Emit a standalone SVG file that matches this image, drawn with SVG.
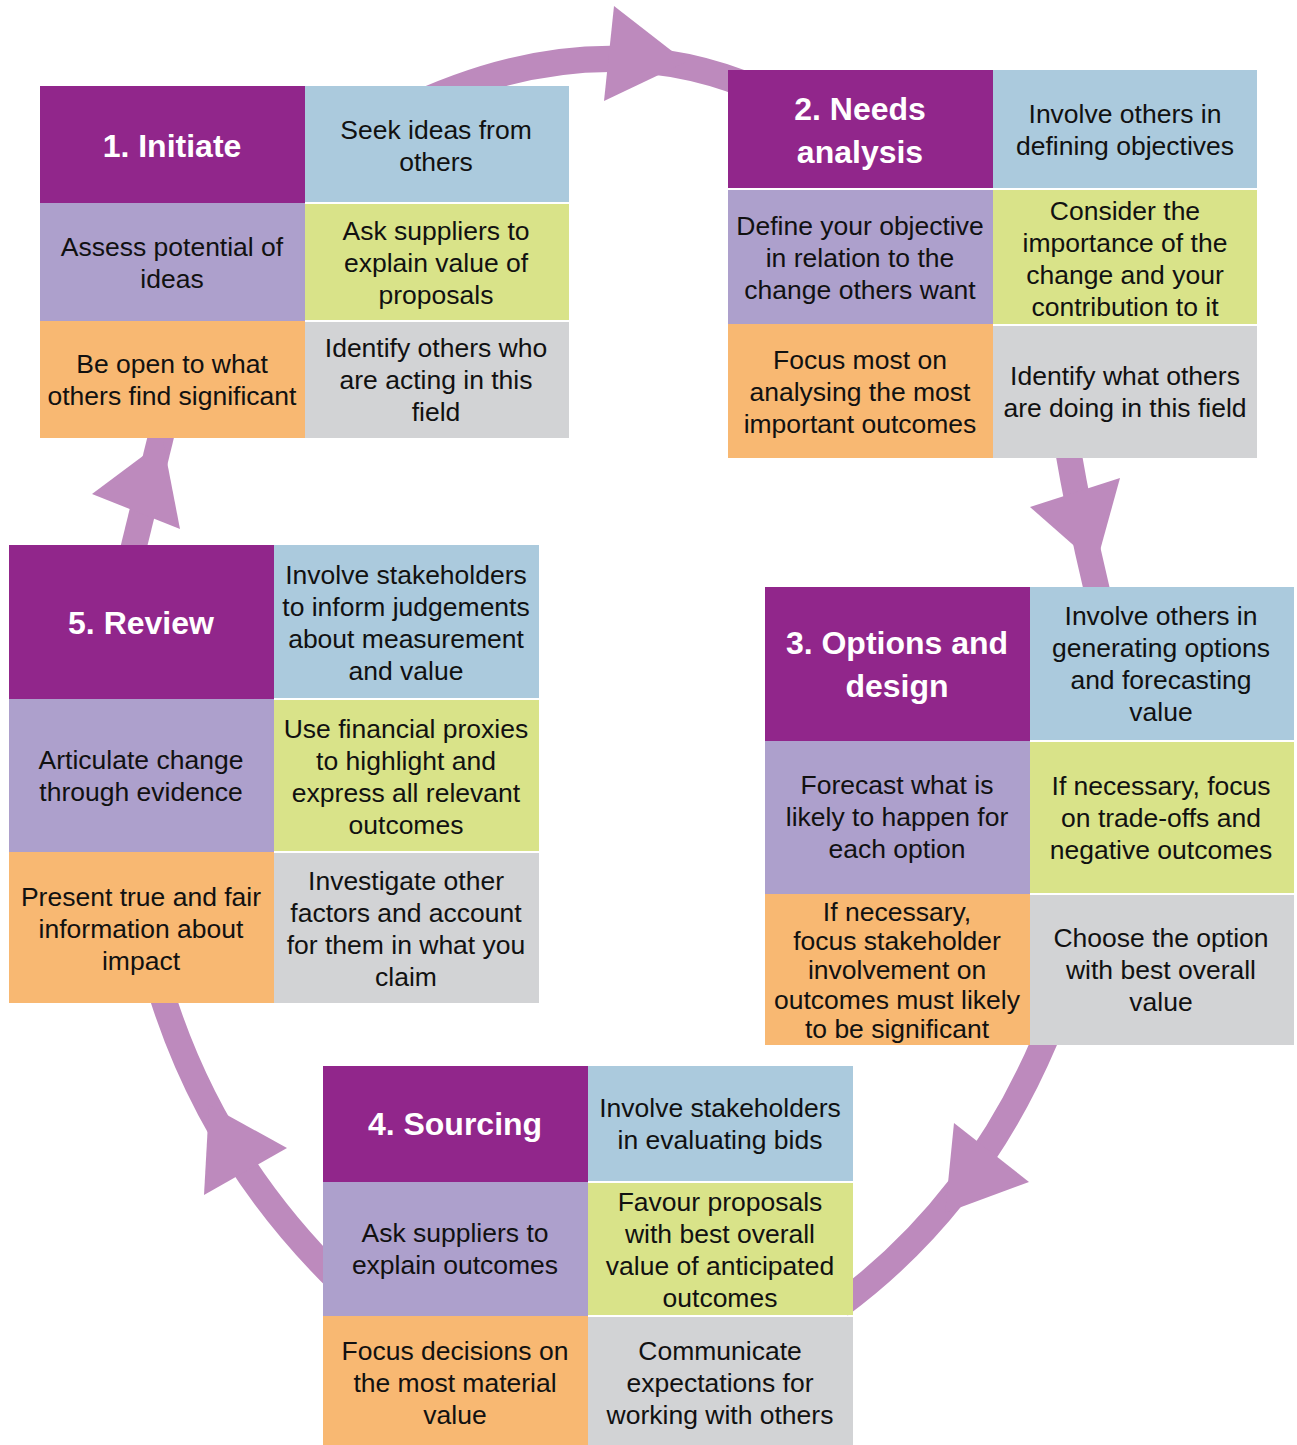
<svg xmlns="http://www.w3.org/2000/svg" width="1297" height="1445" viewBox="0 0 1297 1445">
<style>
.p{fill:#91268B}.b{fill:#ABCADD}.l{fill:#ADA0CC}.g{fill:#D9E389}.o{fill:#F8B872}.y{fill:#D2D3D5}
.t{font-family:"Liberation Sans",Arial,sans-serif;font-size:26.5px;fill:#111;text-anchor:middle}
.h{font-family:"Liberation Sans",Arial,sans-serif;font-size:32px;font-weight:bold;fill:#fff;text-anchor:middle}
.ring{fill:none;stroke:#BD8ABD;stroke-width:26}
.head{fill:#BD8ABD}
</style>
<rect width="1297" height="1445" fill="#fff"/>
<g id="connectors">
<path class="ring" d="M 400 112 Q 600 15 770 95"/>
<polygon class="head" points="614,6 686,62 604,101"/>
<path class="ring" d="M 1068 450 Q 1080 520 1098 595"/>
<polygon class="head" points="1030,507 1120,478 1096,565"/>
<path class="ring" d="M 1045 1040 Q 975 1205 840 1305"/>
<polygon class="head" points="954,1123 1029,1182 945,1213"/>
<path class="ring" d="M 340 1282 Q 215 1160 163 998"/>
<polygon class="head" points="287,1148 204,1195 209,1105"/>
<path class="ring" d="M 133 550 L 162 432"/>
<polygon class="head" points="92,494 180,529 163,441"/>
</g>
<g id="node1">
<rect class="p" x="40" y="86" width="265" height="117"/>
<rect class="l" x="40" y="203" width="265" height="118"/>
<rect class="o" x="40" y="321" width="265" height="117"/>
<rect class="b" x="305" y="86" width="264" height="116"/>
<rect class="g" x="305" y="204" width="264" height="116"/>
<rect class="y" x="305" y="322" width="264" height="116"/>
<text class="h" x="172" y="157">1. Initiate</text>
<text class="t" x="436" y="139">Seek ideas from</text>
<text class="t" x="436" y="171">others</text>
<text class="t" x="172" y="256">Assess potential of</text>
<text class="t" x="172" y="288">ideas</text>
<text class="t" x="436" y="240">Ask suppliers to</text>
<text class="t" x="436" y="272">explain value of</text>
<text class="t" x="436" y="304">proposals</text>
<text class="t" x="172" y="373">Be open to what</text>
<text class="t" x="172" y="405">others find significant</text>
<text class="t" x="436" y="357">Identify others who</text>
<text class="t" x="436" y="389">are acting in this</text>
<text class="t" x="436" y="421">field</text>
</g>
<g id="node2">
<rect class="p" x="728" y="70" width="265" height="118"/>
<rect class="l" x="728" y="190" width="265" height="134"/>
<rect class="o" x="728" y="324" width="265" height="134"/>
<rect class="b" x="993" y="70" width="264" height="118"/>
<rect class="g" x="993" y="190" width="264" height="134"/>
<rect class="y" x="993" y="326" width="264" height="132"/>
<text class="h" x="860" y="120">2. Needs</text>
<text class="h" x="860" y="163">analysis</text>
<text class="t" x="1125" y="123">Involve others in</text>
<text class="t" x="1125" y="155">defining objectives</text>
<text class="t" x="860" y="235">Define your objective</text>
<text class="t" x="860" y="267">in relation to the</text>
<text class="t" x="860" y="299">change others want</text>
<text class="t" x="1125" y="220">Consider the</text>
<text class="t" x="1125" y="252">importance of the</text>
<text class="t" x="1125" y="284">change and your</text>
<text class="t" x="1125" y="316">contribution to it</text>
<text class="t" x="860" y="369">Focus most on</text>
<text class="t" x="860" y="401">analysing the most</text>
<text class="t" x="860" y="433">important outcomes</text>
<text class="t" x="1125" y="385">Identify what others</text>
<text class="t" x="1125" y="417">are doing in this field</text>
</g>
<g id="node3">
<rect class="p" x="765" y="587" width="265" height="154"/>
<rect class="l" x="765" y="741" width="265" height="153"/>
<rect class="o" x="765" y="894" width="265" height="151"/>
<rect class="b" x="1030" y="587" width="264" height="153"/>
<rect class="g" x="1030" y="742" width="264" height="151"/>
<rect class="y" x="1030" y="895" width="264" height="150"/>
<text class="h" x="897" y="654">3. Options and</text>
<text class="h" x="897" y="697">design</text>
<text class="t" x="1161" y="625">Involve others in</text>
<text class="t" x="1161" y="657">generating options</text>
<text class="t" x="1161" y="689">and forecasting</text>
<text class="t" x="1161" y="721">value</text>
<text class="t" x="897" y="794">Forecast what is</text>
<text class="t" x="897" y="826">likely to happen for</text>
<text class="t" x="897" y="858">each option</text>
<text class="t" x="1161" y="795">If necessary, focus</text>
<text class="t" x="1161" y="827">on trade-offs and</text>
<text class="t" x="1161" y="859">negative outcomes</text>
<text class="t" x="897" y="921">If necessary,</text>
<text class="t" x="897" y="950">focus stakeholder</text>
<text class="t" x="897" y="979">involvement on</text>
<text class="t" x="897" y="1009">outcomes must likely</text>
<text class="t" x="897" y="1038">to be significant</text>
<text class="t" x="1161" y="947">Choose the option</text>
<text class="t" x="1161" y="979">with best overall</text>
<text class="t" x="1161" y="1011">value</text>
</g>
<g id="node4">
<rect class="p" x="323" y="1066" width="265" height="116"/>
<rect class="l" x="323" y="1182" width="265" height="134"/>
<rect class="o" x="323" y="1316" width="265" height="129"/>
<rect class="b" x="588" y="1066" width="265" height="115"/>
<rect class="g" x="588" y="1183" width="265" height="132"/>
<rect class="y" x="588" y="1317" width="265" height="128"/>
<text class="h" x="455" y="1135">4. Sourcing</text>
<text class="t" x="720" y="1117">Involve stakeholders</text>
<text class="t" x="720" y="1149">in evaluating bids</text>
<text class="t" x="455" y="1242">Ask suppliers to</text>
<text class="t" x="455" y="1274">explain outcomes</text>
<text class="t" x="720" y="1211">Favour proposals</text>
<text class="t" x="720" y="1243">with best overall</text>
<text class="t" x="720" y="1275">value of anticipated</text>
<text class="t" x="720" y="1307">outcomes</text>
<text class="t" x="455" y="1360">Focus decisions on</text>
<text class="t" x="455" y="1392">the most material</text>
<text class="t" x="455" y="1424">value</text>
<text class="t" x="720" y="1360">Communicate</text>
<text class="t" x="720" y="1392">expectations for</text>
<text class="t" x="720" y="1424">working with others</text>
</g>
<g id="node5">
<rect class="p" x="9" y="545" width="265" height="154"/>
<rect class="l" x="9" y="699" width="265" height="153"/>
<rect class="o" x="9" y="852" width="265" height="151"/>
<rect class="b" x="274" y="545" width="265" height="153"/>
<rect class="g" x="274" y="700" width="265" height="151"/>
<rect class="y" x="274" y="853" width="265" height="150"/>
<text class="h" x="141" y="634">5. Review</text>
<text class="t" x="406" y="584">Involve stakeholders</text>
<text class="t" x="406" y="616">to inform judgements</text>
<text class="t" x="406" y="648">about measurement</text>
<text class="t" x="406" y="680">and value</text>
<text class="t" x="141" y="769">Articulate change</text>
<text class="t" x="141" y="801">through evidence</text>
<text class="t" x="406" y="738">Use financial proxies</text>
<text class="t" x="406" y="770">to highlight and</text>
<text class="t" x="406" y="802">express all relevant</text>
<text class="t" x="406" y="834">outcomes</text>
<text class="t" x="141" y="906">Present true and fair</text>
<text class="t" x="141" y="938">information about</text>
<text class="t" x="141" y="970">impact</text>
<text class="t" x="406" y="890">Investigate other</text>
<text class="t" x="406" y="922">factors and account</text>
<text class="t" x="406" y="954">for them in what you</text>
<text class="t" x="406" y="986">claim</text>
</g>
</svg>
